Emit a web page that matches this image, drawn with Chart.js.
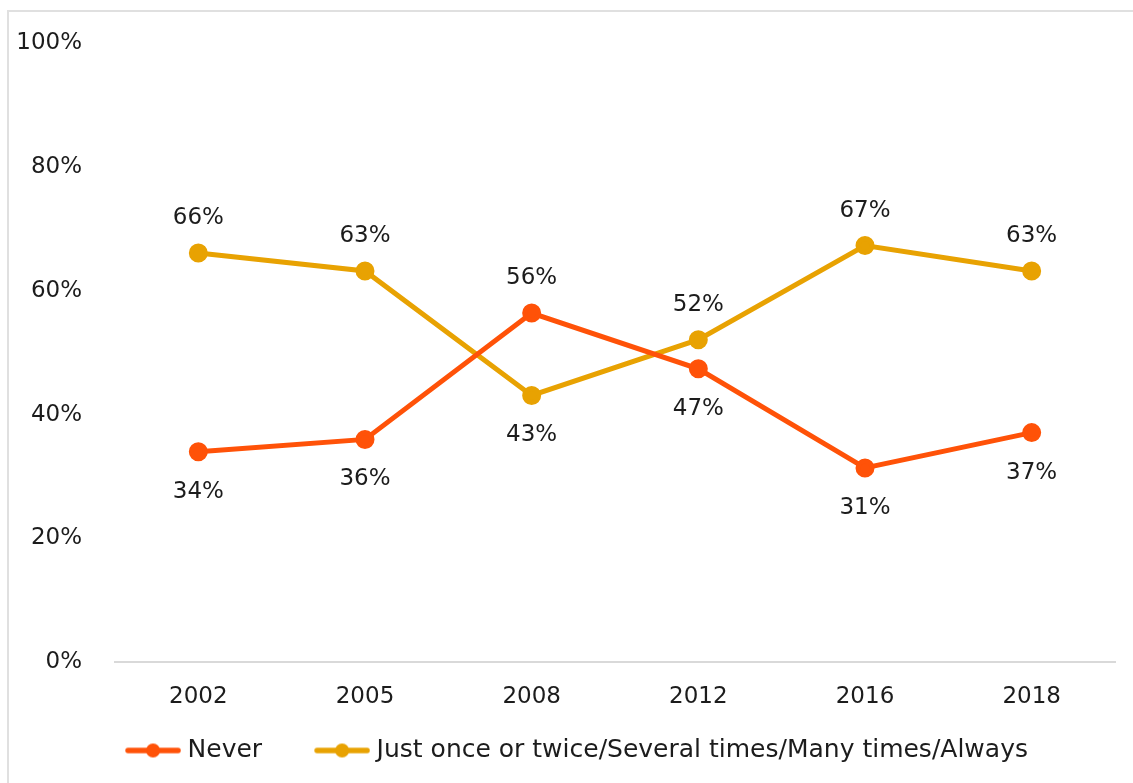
<!DOCTYPE html>
<html>
<head>
<meta charset="utf-8">
<script src="https://cdn.jsdelivr.net/npm/chart.js@4/dist/chart.umd.min.js"></script>
<style>
  html, body { margin: 0; padding: 0; background: #fff; }
  #cadre { position: absolute; left: 7px; top: 10px; width: 1200px; height: 800px; border: 2px solid #e0e0e0; box-sizing: border-box; }
  #zone { position: absolute; left: 0; top: 0; width: 1133px; height: 783px; }
</style>
</head>
<body>
<div id="cadre"></div>
<div id="zone"><canvas id="graphique"></canvas></div>
<script>
// Données
const annees = ['2002', '2005', '2008', '2012', '2016', '2018'];
const jamais = [34.0, 36.0, 56.4, 47.4, 31.4, 37.1];
const parfois = [66.1, 63.2, 43.1, 52.1, 67.3, 63.2];
// position des étiquettes : 1 = au-dessus, -1 = en dessous
const posJamais = [-1, -1, 1, -1, -1, -1];
const posParfois = [1, 1, -1, 1, 1, 1];
const nomsSeries = ['Never', 'Just once or twice/Several times/Many times/Always'];

const couleurs = ['#FF5208', '#E8A202'];
const police = 'DejaVu Sans';
const taille = 23;
const tailleLegende = 25;
const texte = '#1c1c1c';
const largeurBoite = 88;

// image "ligne + point" pour la légende (vide à gauche pour espacer les éléments)
function iconeLegende(couleur) {
    const c = document.createElement('canvas');
    c.width = largeurBoite + 12; c.height = 16;
    const ctx = c.getContext('2d');
    const x0 = c.width - 56;
    ctx.strokeStyle = couleur; ctx.lineWidth = 5.5; ctx.lineCap = 'round';
    ctx.beginPath(); ctx.moveTo(x0 + 3, 8); ctx.lineTo(c.width - 3, 8); ctx.stroke();
    ctx.fillStyle = couleur;
    ctx.beginPath(); ctx.arc(x0 + 28, 8, 7, 0, Math.PI * 2); ctx.fill();
    return c;
}
const icones = couleurs.map(iconeLegende);

// étiquettes de valeurs au-dessus / en dessous des points
const etiquettes = {
    id: 'etiquettes',
    afterDatasetsDraw(chart) {
        const ctx = chart.ctx;
        const positions = [posJamais, posParfois];
        ctx.save();
        ctx.font = taille + 'px ' + police;
        ctx.fillStyle = texte;
        ctx.textAlign = 'center';
        ctx.textBaseline = 'middle';
        chart.data.datasets.forEach((ds, i) => {
            chart.getDatasetMeta(i).data.forEach((pt, j) => {
                const dy = positions[i][j] > 0 ? -35 : 40;
                ctx.fillText(Math.round(ds.data[j]) + '%', pt.x, pt.y + dy);
            });
        });
        ctx.restore();
    }
};

new Chart('graphique', {
    type: 'line',
    data: {
        labels: annees,
        datasets: [
            { label: nomsSeries[0], data: jamais, borderColor: couleurs[0], backgroundColor: couleurs[0],
              borderWidth: 5, pointRadius: 7, pointHoverRadius: 7, tension: 0 },
            { label: nomsSeries[1], data: parfois, borderColor: couleurs[1], backgroundColor: couleurs[1],
              borderWidth: 5, pointRadius: 7, pointHoverRadius: 7, tension: 0 }
        ]
    },
    options: {
        responsive: true,
        maintainAspectRatio: false,
        animation: false,
        layout: { padding: { left: 0, right: 18, top: 43, bottom: 10 } },
        scales: {
            x: {
                offset: true,
                grid: { display: false, offset: true },
                border: { display: true, color: '#d9d9d9', width: 2 },
                ticks: { color: texte, font: { family: police, size: taille }, padding: 13 }
            },
            y: {
                min: 0, max: 100,
                grid: { display: false },
                border: { display: false },
                afterFit: s => { s.width = 115; },
                ticks: { stepSize: 20, color: texte, font: { family: police, size: taille }, padding: 25,
                         callback: v => v + '%' }
            }
        },
        plugins: {
            tooltip: { enabled: false },
            legend: {
                position: 'bottom',
                labels: {
                    usePointStyle: true,
                    pointStyleWidth: largeurBoite,
                    padding: 14,
                    color: texte,
                    font: { family: police, size: tailleLegende },
                    generateLabels(chart) {
                        const items = Chart.defaults.plugins.legend.labels.generateLabels(chart);
                        items.forEach((it, i) => { it.pointStyle = icones[i]; });
                        return items;
                    }
                }
            }
        }
    },
    plugins: [etiquettes]
});
</script>
</body>
</html>
